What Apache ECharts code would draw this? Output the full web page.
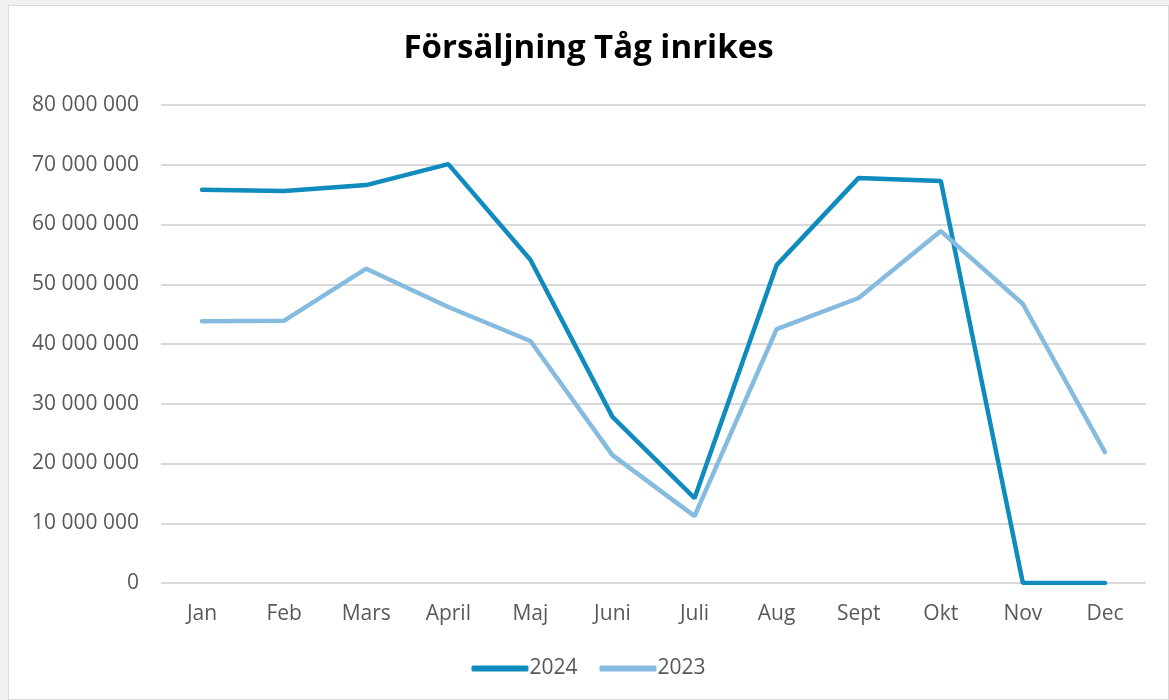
<!DOCTYPE html>
<html>
<head>
<meta charset="utf-8">
<script src="https://cdn.jsdelivr.net/npm/echarts@6/dist/echarts.min.js"></script>
<style>
  html, body { margin: 0; padding: 0; background: #f0f0f0; }
  #chart { position: absolute; left: 8px; top: 5px; width: 1161px; height: 695px;
           background: #fff; border: 1px solid #d9d9d9; box-sizing: border-box; }
</style>
</head>
<body>
<div id="chart"></div>
<script>
const months = ['Jan', 'Feb', 'Mars', 'April', 'Maj', 'Juni', 'Juli', 'Aug', 'Sept', 'Okt', 'Nov', 'Dec'];
const sales2024 = [65800000, 65600000, 66600000, 70100000, 54100000, 27800000, 14200000, 53200000, 67800000, 67300000, 0, 0];
const sales2023 = [43800000, 43900000, 52600000, 46200000, 40500000, 21400000, 11200000, 42500000, 47700000, 58900000, 46700000, 21900000];

let chart = echarts.init(document.getElementById('chart'));

function fmt(v) {
  return String(v).replace(/\B(?=(\d{3})+(?!\d))/g, ' ');
}

let option = {
  animation: false,
  textStyle: { fontFamily: '"Open Sans", sans-serif' },
  title: {
    text: 'Försäljning Tåg inrikes',
    left: 'center',
    top: 21,
    textStyle: { fontSize: 33, fontWeight: 'bold', color: '#000', fontFamily: '"Open Sans", sans-serif' }
  },
  legend: {
    bottom: 15,
    left: 'center',
    itemWidth: 57,
    itemHeight: 6,
    itemGap: 22,
    icon: 'roundRect',
    textStyle: { fontSize: 21, color: '#595959', padding: [0, 0, 0, -4] },
    data: ['2024', '2023']
  },
  grid: { left: 152, right: 22, top: 99, bottom: 116 },
  xAxis: {
    type: 'category',
    data: months,
    boundaryGap: true,
    axisLine: { show: false },
    axisTick: { show: false },
    axisLabel: { color: '#595959', fontSize: 21, margin: 21 }
  },
  yAxis: {
    type: 'value',
    min: 0,
    max: 80000000,
    interval: 10000000,
    axisLine: { show: false },
    axisTick: { show: false },
    axisLabel: { color: '#595959', fontSize: 21, margin: 22, formatter: fmt },
    splitLine: { lineStyle: { color: '#d9d9d9', width: 2 } }
  },
  series: [
    {
      name: '2024',
      type: 'line',
      data: sales2024,
      showSymbol: false,
      lineStyle: { width: 4.5, color: '#0f8bbd', cap: 'round' },
      itemStyle: { color: '#0f8bbd' }
    },
    {
      name: '2023',
      type: 'line',
      data: sales2023,
      showSymbol: false,
      lineStyle: { width: 4.5, color: '#86bbe0', cap: 'round' },
      itemStyle: { color: '#86bbe0' }
    }
  ]
};

chart.setOption(option);
</script>
</body>
</html>
